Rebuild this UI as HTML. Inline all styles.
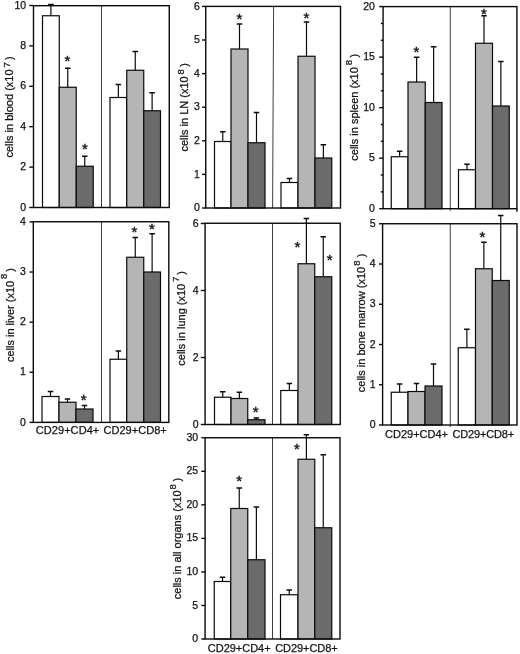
<!DOCTYPE html>
<html><head><meta charset="utf-8"><title>Figure</title>
<style>
html,body{margin:0;padding:0;background:#fff;}
body{width:520px;height:654px;overflow:hidden;}
svg{display:block;}
text{font-family:"Liberation Sans", Arial, Helvetica, sans-serif;fill:#111;stroke:#111;stroke-width:0.25;}
.ax{stroke:#0a0a0a;stroke-width:1.4;fill:none;}
.dv{stroke:#1a1a1a;stroke-width:0.85;fill:none;}
.bar{stroke:#0a0a0a;stroke-width:1.2;}
.eb{stroke:#0a0a0a;stroke-width:1.2;fill:none;}
.cap{stroke:#0a0a0a;stroke-width:1.5;fill:none;}
.tk{font-size:10.5px;text-anchor:end;}
.xl{font-size:11px;}
.yl{font-size:11px;}
.st{font-size:15px;text-anchor:middle;stroke-width:0.4;}
</style></head><body>
<svg width="520" height="654" viewBox="0 0 520 654">
<rect x="0" y="0" width="520" height="654" fill="#ffffff"/>

<g id="blood">
<path class="eb" d="M50.88 15.75V4.50"/><path class="cap" d="M48.12 4.50H53.62"/>
<rect class="bar" x="42.50" y="15.75" width="16.75" height="191.75" fill="#ffffff"/>
<path class="eb" d="M67.75 87.25V68.25"/><path class="cap" d="M65.00 68.25H70.50"/>
<rect class="bar" x="59.25" y="87.25" width="17.00" height="120.25" fill="#b5b5b5"/>
<text class="st" x="67.50" y="66.15">*</text>
<path class="eb" d="M84.75 166.25V156.25"/><path class="cap" d="M82.00 156.25H87.50"/>
<rect class="bar" x="76.25" y="166.25" width="17.00" height="41.25" fill="#6b6b6b"/>
<text class="st" x="85.00" y="154.40">*</text>
<path class="eb" d="M118.38 97.50V84.50"/><path class="cap" d="M115.62 84.50H121.12"/>
<rect class="bar" x="110.00" y="97.50" width="16.75" height="110.00" fill="#ffffff"/>
<path class="eb" d="M135.25 70.25V51.50"/><path class="cap" d="M132.50 51.50H138.00"/>
<rect class="bar" x="126.75" y="70.25" width="17.00" height="137.25" fill="#b5b5b5"/>
<path class="eb" d="M152.12 110.75V92.75"/><path class="cap" d="M149.38 92.75H154.88"/>
<rect class="bar" x="143.75" y="110.75" width="16.75" height="96.75" fill="#6b6b6b"/>
<path class="dv" d="M101.50 5.70L101.50 207.50"/>
<rect class="ax" x="33.50" y="5.70" width="135.75" height="201.80"/>
<path class="ax" d="M29.30 207.50H33.50"/>
<text class="tk" x="26.10" y="210.60">0</text>
<path class="ax" d="M29.30 167.10H33.50"/>
<text class="tk" x="26.10" y="170.20">2</text>
<path class="ax" d="M29.30 126.70H33.50"/>
<text class="tk" x="26.10" y="129.80">4</text>
<path class="ax" d="M29.30 86.30H33.50"/>
<text class="tk" x="26.10" y="89.40">6</text>
<path class="ax" d="M29.30 45.90H33.50"/>
<text class="tk" x="26.10" y="49.00">8</text>
<path class="ax" d="M29.30 5.50H33.50"/>
<text class="tk" x="26.10" y="8.60">10</text>
<text class="yl" transform="translate(12.80 157.50) rotate(-90)">cells in blood (x10</text>
<text class="yl" style="font-size:9.5px" transform="translate(9.60 67.50) rotate(-90)">7</text>
<text class="yl" transform="translate(12.80 60.10) rotate(-90)">)</text>
</g>
<g id="LN">
<path class="eb" d="M222.75 141.50V131.75"/><path class="cap" d="M220.00 131.75H225.50"/>
<rect class="bar" x="214.50" y="141.50" width="16.50" height="66.50" fill="#ffffff"/>
<path class="eb" d="M239.50 49.00V24.00"/><path class="cap" d="M236.75 24.00H242.25"/>
<rect class="bar" x="231.00" y="49.00" width="17.00" height="159.00" fill="#b5b5b5"/>
<text class="st" x="239.50" y="24.40">*</text>
<path class="eb" d="M256.50 142.75V112.50"/><path class="cap" d="M253.75 112.50H259.25"/>
<rect class="bar" x="248.00" y="142.75" width="17.00" height="65.25" fill="#6b6b6b"/>
<path class="eb" d="M289.50 182.50V178.50"/><path class="cap" d="M286.75 178.50H292.25"/>
<rect class="bar" x="281.00" y="182.50" width="17.00" height="25.50" fill="#ffffff"/>
<path class="eb" d="M306.50 56.25V22.00"/><path class="cap" d="M303.75 22.00H309.25"/>
<rect class="bar" x="298.00" y="56.25" width="17.00" height="151.75" fill="#b5b5b5"/>
<text class="st" x="306.50" y="23.40">*</text>
<path class="eb" d="M323.38 158.00V144.75"/><path class="cap" d="M320.62 144.75H326.12"/>
<rect class="bar" x="315.00" y="158.00" width="16.75" height="50.00" fill="#6b6b6b"/>
<path class="dv" d="M273.60 6.40L272.60 208.00"/>
<rect class="ax" x="205.75" y="6.40" width="134.75" height="201.60"/>
<path class="ax" d="M202.05 208.00H205.75"/>
<text class="tk" x="199.85" y="211.10">0</text>
<path class="ax" d="M202.05 174.40H205.75"/>
<text class="tk" x="199.85" y="177.50">1</text>
<path class="ax" d="M202.05 140.80H205.75"/>
<text class="tk" x="199.85" y="143.90">2</text>
<path class="ax" d="M202.05 107.20H205.75"/>
<text class="tk" x="199.85" y="110.30">3</text>
<path class="ax" d="M202.05 73.60H205.75"/>
<text class="tk" x="199.85" y="76.70">4</text>
<path class="ax" d="M202.05 40.00H205.75"/>
<text class="tk" x="199.85" y="43.10">5</text>
<path class="ax" d="M202.05 6.40H205.75"/>
<text class="tk" x="199.85" y="9.50">6</text>
<text class="yl" transform="translate(188.30 151.50) rotate(-90)">cells in LN (x10</text>
<text class="yl" style="font-size:9.5px" transform="translate(183.50 74.40) rotate(-90)">8</text>
<text class="yl" transform="translate(188.30 66.70) rotate(-90)">)</text>
</g>
<g id="spleen">
<path class="eb" d="M399.62 156.75V151.25"/><path class="cap" d="M396.88 151.25H402.38"/>
<rect class="bar" x="391.25" y="156.75" width="16.75" height="51.95" fill="#ffffff"/>
<path class="eb" d="M416.62 82.00V57.25"/><path class="cap" d="M413.88 57.25H419.38"/>
<rect class="bar" x="408.00" y="82.00" width="17.25" height="126.70" fill="#b5b5b5"/>
<text class="st" x="416.50" y="56.65">*</text>
<path class="eb" d="M433.62 102.50V46.75"/><path class="cap" d="M430.88 46.75H436.38"/>
<rect class="bar" x="425.25" y="102.50" width="16.75" height="106.20" fill="#6b6b6b"/>
<path class="eb" d="M467.00 169.75V164.25"/><path class="cap" d="M464.25 164.25H469.75"/>
<rect class="bar" x="458.50" y="169.75" width="17.00" height="38.95" fill="#ffffff"/>
<path class="eb" d="M484.00 43.25V15.75"/><path class="cap" d="M481.25 15.75H486.75"/>
<rect class="bar" x="475.50" y="43.25" width="17.00" height="165.45" fill="#b5b5b5"/>
<text class="st" x="484.00" y="18.65">*</text>
<path class="eb" d="M500.88 106.00V61.50"/><path class="cap" d="M498.12 61.50H503.62"/>
<rect class="bar" x="492.50" y="106.00" width="16.75" height="102.70" fill="#6b6b6b"/>
<path class="dv" d="M450.25 6.60L450.25 210.70"/>
<path class="ax" d="M516.90 208.70V211.70"/>
<rect class="ax" x="383.10" y="6.60" width="133.80" height="202.10"/>
<path class="ax" d="M379.20 208.70H383.10"/>
<text class="tk" x="374.90" y="211.80">0</text>
<path class="ax" d="M379.20 158.17H383.10"/>
<text class="tk" x="374.90" y="161.27">5</text>
<path class="ax" d="M379.20 107.65H383.10"/>
<text class="tk" x="374.90" y="110.75">10</text>
<path class="ax" d="M379.20 57.12H383.10"/>
<text class="tk" x="374.90" y="60.22">15</text>
<path class="ax" d="M379.20 6.60H383.10"/>
<text class="tk" x="374.90" y="9.70">20</text>
<path class="ax" d="M380.80 191.86H383.10"/>
<path class="ax" d="M380.80 175.02H383.10"/>
<path class="ax" d="M380.80 141.33H383.10"/>
<path class="ax" d="M380.80 124.49H383.10"/>
<path class="ax" d="M380.80 90.81H383.10"/>
<path class="ax" d="M380.80 73.97H383.10"/>
<path class="ax" d="M380.80 40.28H383.10"/>
<path class="ax" d="M380.80 23.44H383.10"/>
<text class="yl" transform="translate(358.20 160.70) rotate(-90)">cells in spleen (x10</text>
<text class="yl" style="font-size:9.5px" transform="translate(352.40 65.20) rotate(-90)">8</text>
<text class="yl" transform="translate(358.20 57.50) rotate(-90)">)</text>
</g>
<g id="liver">
<path class="eb" d="M50.50 396.50V391.50"/><path class="cap" d="M47.75 391.50H53.25"/>
<rect class="bar" x="42.00" y="396.50" width="17.00" height="25.90" fill="#ffffff"/>
<path class="eb" d="M67.50 402.25V399.00"/><path class="cap" d="M64.75 399.00H70.25"/>
<rect class="bar" x="59.00" y="402.25" width="17.00" height="20.15" fill="#b5b5b5"/>
<path class="eb" d="M84.50 409.00V405.50"/><path class="cap" d="M81.75 405.50H87.25"/>
<rect class="bar" x="76.00" y="409.00" width="17.00" height="13.40" fill="#6b6b6b"/>
<text class="st" x="83.75" y="405.15">*</text>
<path class="eb" d="M118.38 359.25V351.00"/><path class="cap" d="M115.62 351.00H121.12"/>
<rect class="bar" x="110.00" y="359.25" width="16.75" height="63.15" fill="#ffffff"/>
<path class="eb" d="M135.25 257.25V237.50"/><path class="cap" d="M132.50 237.50H138.00"/>
<rect class="bar" x="126.75" y="257.25" width="17.00" height="165.15" fill="#b5b5b5"/>
<text class="st" x="134.50" y="237.40">*</text>
<path class="eb" d="M152.12 272.00V233.75"/><path class="cap" d="M149.38 233.75H154.88"/>
<rect class="bar" x="143.75" y="272.00" width="16.75" height="150.40" fill="#6b6b6b"/>
<text class="st" x="152.00" y="234.15">*</text>
<path class="dv" d="M101.50 221.75L101.50 422.40"/>
<rect class="ax" x="33.30" y="221.75" width="135.50" height="200.65"/>
<path class="ax" d="M29.50 422.40H33.30"/>
<text class="tk" x="25.90" y="425.50">0</text>
<path class="ax" d="M29.50 372.27H33.30"/>
<text class="tk" x="25.90" y="375.38">1</text>
<path class="ax" d="M29.50 322.15H33.30"/>
<text class="tk" x="25.90" y="325.25">2</text>
<path class="ax" d="M29.50 272.02H33.30"/>
<text class="tk" x="25.90" y="275.12">3</text>
<path class="ax" d="M29.50 221.90H33.30"/>
<text class="tk" x="25.90" y="225.00">4</text>
<text class="yl" transform="translate(13.80 362.10) rotate(-90)">cells in liver (x10</text>
<text class="yl" style="font-size:9.5px" transform="translate(7.30 278.90) rotate(-90)">8</text>
<text class="yl" transform="translate(13.80 271.70) rotate(-90)">)</text>
<text class="xl" x="35.75" y="433.50" textLength="63.50" lengthAdjust="spacing">CD29+CD4+</text>
<text class="xl" x="103.50" y="433.50" textLength="63.25" lengthAdjust="spacing">CD29+CD8+</text>
</g>
<g id="lung">
<path class="eb" d="M222.75 397.25V391.75"/><path class="cap" d="M220.00 391.75H225.50"/>
<rect class="bar" x="214.50" y="397.25" width="16.50" height="27.25" fill="#ffffff"/>
<path class="eb" d="M239.38 398.50V392.25"/><path class="cap" d="M236.62 392.25H242.12"/>
<rect class="bar" x="231.00" y="398.50" width="16.75" height="26.00" fill="#b5b5b5"/>
<path class="eb" d="M256.38 419.75V418.00"/><path class="cap" d="M253.62 418.00H259.12"/>
<rect class="bar" x="247.75" y="419.75" width="17.25" height="4.75" fill="#6b6b6b"/>
<text class="st" x="255.75" y="417.15">*</text>
<path class="eb" d="M289.38 390.50V383.50"/><path class="cap" d="M286.62 383.50H292.12"/>
<rect class="bar" x="280.75" y="390.50" width="17.25" height="34.00" fill="#ffffff"/>
<path class="eb" d="M306.38 263.75V218.50"/><path class="cap" d="M303.62 218.50H309.12"/>
<rect class="bar" x="298.00" y="263.75" width="16.75" height="160.75" fill="#b5b5b5"/>
<text class="st" x="297.50" y="251.65">*</text>
<path class="eb" d="M323.25 276.75V236.75"/><path class="cap" d="M320.50 236.75H326.00"/>
<rect class="bar" x="314.75" y="276.75" width="17.00" height="147.75" fill="#6b6b6b"/>
<text class="st" x="329.75" y="264.90">*</text>
<path class="dv" d="M272.50 223.25L272.50 424.50"/>
<rect class="ax" x="205.10" y="223.25" width="135.15" height="201.25"/>
<path class="ax" d="M200.80 424.50H205.10"/>
<text class="tk" x="198.60" y="427.60">0</text>
<path class="ax" d="M200.80 357.50H205.10"/>
<text class="tk" x="198.60" y="360.60">2</text>
<path class="ax" d="M200.80 290.50H205.10"/>
<text class="tk" x="198.60" y="293.60">4</text>
<path class="ax" d="M200.80 223.50H205.10"/>
<text class="tk" x="198.60" y="226.60">6</text>
<text class="yl" transform="translate(184.70 365.70) rotate(-90)">cells in lung (x10</text>
<text class="yl" style="font-size:9.5px" transform="translate(178.70 281.90) rotate(-90)">7</text>
<text class="yl" transform="translate(184.70 274.70) rotate(-90)">)</text>
</g>
<g id="bm">
<path class="eb" d="M399.62 392.25V384.00"/><path class="cap" d="M396.88 384.00H402.38"/>
<rect class="bar" x="391.25" y="392.25" width="16.75" height="32.75" fill="#ffffff"/>
<path class="eb" d="M416.50 391.50V383.50"/><path class="cap" d="M413.75 383.50H419.25"/>
<rect class="bar" x="408.00" y="391.50" width="17.00" height="33.50" fill="#b5b5b5"/>
<path class="eb" d="M433.50 386.00V364.00"/><path class="cap" d="M430.75 364.00H436.25"/>
<rect class="bar" x="425.00" y="386.00" width="17.00" height="39.00" fill="#6b6b6b"/>
<path class="eb" d="M466.88 347.75V329.25"/><path class="cap" d="M464.12 329.25H469.62"/>
<rect class="bar" x="458.25" y="347.75" width="17.25" height="77.25" fill="#ffffff"/>
<path class="eb" d="M483.88 268.75V242.25"/><path class="cap" d="M481.12 242.25H486.62"/>
<rect class="bar" x="475.50" y="268.75" width="16.75" height="156.25" fill="#b5b5b5"/>
<text class="st" x="482.50" y="242.40">*</text>
<path class="eb" d="M500.75 280.50V215.50"/><path class="cap" d="M498.00 215.50H503.50"/>
<rect class="bar" x="492.25" y="280.50" width="17.00" height="144.50" fill="#6b6b6b"/>
<path class="dv" d="M450.25 223.75L450.25 427.00"/>
<rect class="ax" x="382.60" y="223.75" width="134.40" height="201.25"/>
<path class="ax" d="M379.00 425.00H382.60"/>
<text class="tk" x="375.60" y="428.10">0</text>
<path class="ax" d="M379.00 384.75H382.60"/>
<text class="tk" x="375.60" y="387.85">1</text>
<path class="ax" d="M379.00 344.50H382.60"/>
<text class="tk" x="375.60" y="347.60">2</text>
<path class="ax" d="M379.00 304.25H382.60"/>
<text class="tk" x="375.60" y="307.35">3</text>
<path class="ax" d="M379.00 264.00H382.60"/>
<text class="tk" x="375.60" y="267.10">4</text>
<path class="ax" d="M379.00 223.75H382.60"/>
<text class="tk" x="375.60" y="226.85">5</text>
<text class="yl" transform="translate(365.40 392.20) rotate(-90)">cells in bone marrow (x10</text>
<text class="yl" style="font-size:9.5px" transform="translate(360.20 265.70) rotate(-90)">8</text>
<text class="yl" transform="translate(365.40 257.30) rotate(-90)">)</text>
<text class="xl" x="385.00" y="437.75" textLength="63.00" lengthAdjust="spacing">CD29+CD4+</text>
<text class="xl" x="452.50" y="437.75" textLength="61.75" lengthAdjust="spacing">CD29+CD8+</text>
</g>
<g id="all">
<path class="eb" d="M222.50 581.50V577.25"/><path class="cap" d="M219.75 577.25H225.25"/>
<rect class="bar" x="214.25" y="581.50" width="16.50" height="57.50" fill="#ffffff"/>
<path class="eb" d="M239.25 508.50V488.00"/><path class="cap" d="M236.50 488.00H242.00"/>
<rect class="bar" x="230.75" y="508.50" width="17.00" height="130.50" fill="#b5b5b5"/>
<text class="st" x="239.25" y="486.40">*</text>
<path class="eb" d="M256.38 559.75V507.00"/><path class="cap" d="M253.62 507.00H259.12"/>
<rect class="bar" x="247.75" y="559.75" width="17.25" height="79.25" fill="#6b6b6b"/>
<path class="eb" d="M289.25 594.75V590.00"/><path class="cap" d="M286.50 590.00H292.00"/>
<rect class="bar" x="280.50" y="594.75" width="17.50" height="44.25" fill="#ffffff"/>
<path class="eb" d="M306.38 459.25V434.75"/><path class="cap" d="M303.62 434.75H309.12"/>
<rect class="bar" x="298.00" y="459.25" width="16.75" height="179.75" fill="#b5b5b5"/>
<text class="st" x="297.00" y="454.15">*</text>
<path class="eb" d="M323.25 527.75V454.75"/><path class="cap" d="M320.50 454.75H326.00"/>
<rect class="bar" x="314.75" y="527.75" width="17.00" height="111.25" fill="#6b6b6b"/>
<path class="dv" d="M272.50 437.75L272.50 639.00"/>
<rect class="ax" x="205.10" y="437.75" width="134.90" height="201.25"/>
<path class="ax" d="M201.30 639.00H205.10"/>
<text class="tk" x="198.10" y="642.10">0</text>
<path class="ax" d="M201.30 605.46H205.10"/>
<text class="tk" x="198.10" y="608.56">5</text>
<path class="ax" d="M201.30 571.92H205.10"/>
<text class="tk" x="198.10" y="575.02">10</text>
<path class="ax" d="M201.30 538.38H205.10"/>
<text class="tk" x="198.10" y="541.48">15</text>
<path class="ax" d="M201.30 504.84H205.10"/>
<text class="tk" x="198.10" y="507.94">20</text>
<path class="ax" d="M201.30 471.30H205.10"/>
<text class="tk" x="198.10" y="474.40">25</text>
<path class="ax" d="M201.30 437.76H205.10"/>
<text class="tk" x="198.10" y="440.86">30</text>
<text class="yl" transform="translate(181.00 599.20) rotate(-90)">cells in all organs (x10</text>
<text class="yl" style="font-size:9.5px" transform="translate(176.00 489.60) rotate(-90)">8</text>
<text class="yl" transform="translate(181.00 481.50) rotate(-90)">)</text>
<text class="xl" x="207.80" y="651.50" textLength="62.80" lengthAdjust="spacing">CD29+CD4+</text>
<text class="xl" x="275.20" y="651.50" textLength="62.50" lengthAdjust="spacing">CD29+CD8+</text>
</g>
</svg></body></html>
